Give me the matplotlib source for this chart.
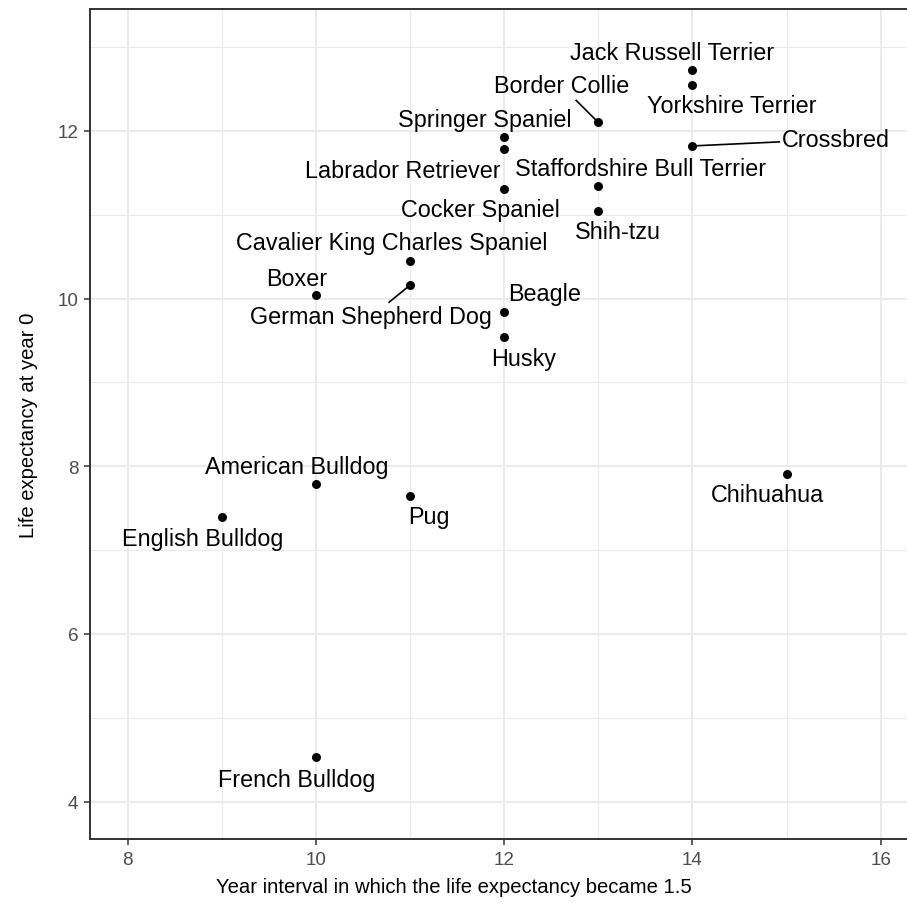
import matplotlib
matplotlib.use("Agg")
import matplotlib.pyplot as plt
from matplotlib.ticker import MultipleLocator
import numpy as np

# Dog breeds: year interval at which life expectancy reached 1.5, and life expectancy at year 0
breeds = [
    "Jack Russell Terrier", "Yorkshire Terrier", "Border Collie", "Crossbred",
    "Springer Spaniel", "Labrador Retriever", "Staffordshire Bull Terrier",
    "Cocker Spaniel", "Shih-tzu", "Cavalier King Charles Spaniel",
    "German Shepherd Dog", "Boxer", "Beagle", "Husky", "Chihuahua",
    "American Bulldog", "Pug", "English Bulldog", "French Bulldog",
]
year_interval = [14, 14, 13, 14, 12, 12, 13, 12, 13, 11, 11, 10, 12, 12, 15, 10, 11, 9, 10]
life_expectancy = [12.72, 12.55, 12.10, 11.82, 11.93, 11.78, 11.34, 11.31, 11.05,
                   10.45, 10.16, 10.04, 9.84, 9.54, 7.91, 7.79, 7.64, 7.39, 4.53]

# Repelled label placement (pixels right / down from each point)
label_offsets = [
    (-20, -18), (39.5, 21), (-36.7, -36.6), (143.8, -6.7),
    (-19, -17.7), (-101.6, 21.7), (42.3, -17.7),
    (-23.6, 20.7), (19.5, 20.7), (-18.8, -18.4),
    (-38.8, 31.6), (-19, -16.7), (40.4, -18.3), (19.2, 21.6), (-19, 20.7),
    (-19.4, -17.6), (18.6, 20), (-19, 21), (-19.7, 22),
]

FONT = "Liberation Sans"
W, H, DPI = 907, 912, 100
fig = plt.figure(figsize=(W / DPI, H / DPI), dpi=DPI)
fig.patch.set_facecolor("white")

# panel in pixel coordinates
px_left, px_right, px_top, px_bottom = 90, 907, 10, 840
ax = fig.add_axes([px_left / W, 1 - px_bottom / H,
                   (px_right - px_left) / W, (px_bottom - px_top) / H])
ax.set_xlim(7.599, 16.28)
ax.set_ylim(3.555, 13.453)

ax.xaxis.set_major_locator(MultipleLocator(2))
ax.xaxis.set_minor_locator(MultipleLocator(1))
ax.yaxis.set_major_locator(MultipleLocator(2))
ax.yaxis.set_minor_locator(MultipleLocator(1))
ax.grid(which="major", color="#EBEBEB", lw=1.4)
ax.grid(which="minor", color="#EBEBEB", lw=0.8)
ax.set_axisbelow(True)

for side in ["left", "bottom", "top"]:
    ax.spines[side].set_color("#333333")
    ax.spines[side].set_linewidth(1.4)
ax.spines["right"].set_visible(False)

ax.tick_params(which="major", length=4.3, width=1.1, color="#333333",
               labelcolor="#4D4D4D", labelsize=13.6, pad=4)
ax.tick_params(which="minor", length=0)
for lab in ax.get_xticklabels() + ax.get_yticklabels():
    lab.set_fontfamily(FONT)

ax.scatter(year_interval, life_expectancy, s=42, color="black", zorder=3,
           linewidths=0)

annots = []
for name, x, y, (dx, dy) in zip(breeds, year_interval, life_expectancy, label_offsets):
    a = ax.annotate(name, (x, y), xytext=(dx, -dy), textcoords="offset pixels",
                    ha="center", va="center", fontsize=16.8, family=FONT,
                    color="black", zorder=4)
    annots.append((a, x, y))


def entry_fraction(px, py, cx, cy, bb, pad):
    """Fraction of the way from (px, py) to the box centre where the padded box is entered."""
    x0, x1, y0, y1 = bb.x0 - pad, bb.x1 + pad, bb.y0 - pad, bb.y1 + pad
    tx = ty = 0.0
    if px < x0:
        tx = (x0 - px) / (cx - px)
    elif px > x1:
        tx = (x1 - px) / (cx - px)
    if py < y0:
        ty = (y0 - py) / (cy - py)
    elif py > y1:
        ty = (y1 - py) / (cy - py)
    return max(tx, ty)


def gap_to_box(px, py, bb):
    """Shortest distance from a point to a box."""
    gx = max(bb.x0 - px, 0.0, px - bb.x1)
    gy = max(bb.y0 - py, 0.0, py - bb.y1)
    return np.hypot(gx, gy)


# leader segments for labels pushed far from their point
fig.canvas.draw()
renderer = fig.canvas.get_renderer()
inv = ax.transData.inverted()
end_pad, min_gap = 3.0, 17.0
for a, x, y in annots:
    bb = a.get_window_extent(renderer)
    px, py = ax.transData.transform((x, y))
    if gap_to_box(px, py, bb) > min_gap:
        cx, cy = (bb.x0 + bb.x1) / 2, (bb.y0 + bb.y1) / 2
        t = entry_fraction(px, py, cx, cy, bb, end_pad)
        qx, qy = px + t * (cx - px), py + t * (cy - py)
        (ax0, ay0), (ax1, ay1) = inv.transform([(px, py), (qx, qy)])
        ax.plot([ax0, ax1], [ay0, ay1], color="black", lw=1.2, zorder=2.5)

fig.text(453.5 / W, 1 - 888 / H, "Year interval in which the life expectancy became 1.5",
         ha="center", va="center", fontsize=14.6, family=FONT, color="black")
fig.text(29 / W, 1 - 425 / H, "Life expectancy at year 0", rotation=90,
         ha="center", va="center", fontsize=14.6, family=FONT, color="black")

fig.savefig("out.png", dpi=DPI, facecolor="white")
